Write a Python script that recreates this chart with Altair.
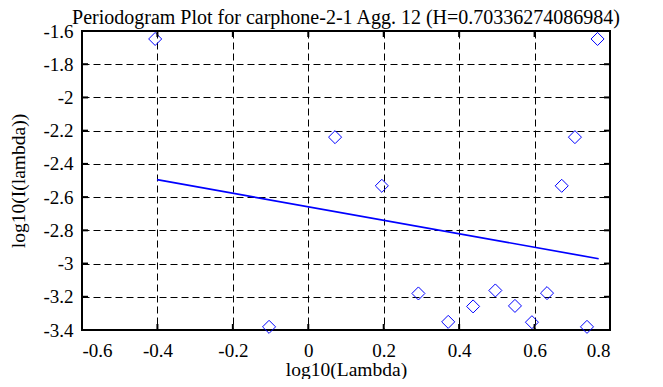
import altair as alt
import pandas as pd

# Periodogram points (log10 lambda, log10 I(lambda))
log_lambda = [-0.406, -0.104, 0.071, 0.195, 0.292, 0.371, 0.437, 0.496,
              0.548, 0.593, 0.633, 0.672, 0.707, 0.739, 0.767]
log_i = [-1.648, -3.381, -2.239, -2.532, -3.180, -3.351, -3.258, -3.162,
         -3.255, -3.353, -3.178, -2.532, -2.239, -3.381, -1.648]

# least squares fit line endpoints
fit_x = [-0.401, 0.770]
fit_y = [-2.495, -2.971]

x_ticks = [-0.6, -0.4, -0.2, 0.0, 0.2, 0.4, 0.6, 0.8]
y_ticks = [-3.4, -3.2, -3.0, -2.8, -2.6, -2.4, -2.2, -2.0, -1.8, -1.6]

title_text = "Periodogram Plot for carphone-2-1 Agg. 12 (H=0.70336274086984)"

W, H = 528, 299
FONT = "Liberation Serif"

pts = pd.DataFrame({"x": log_lambda, "y": log_i})
fit = pd.DataFrame({"x": fit_x, "y": fit_y})
xt = pd.DataFrame({"x": x_ticks})
yt = pd.DataFrame({"y": y_ticks})

xscale = alt.Scale(domain=[-0.6, 0.8], nice=False, zero=False)
yscale = alt.Scale(domain=[-3.4, -1.6], nice=False, zero=False)

xaxis = alt.Axis(values=x_ticks, labelExpr="'' + datum.value", title="log10(Lambda)",
                 grid=True, ticks=False, domain=False, labelPadding=11,
                 labelOverlap=False, titleY=45, titleBaseline="alphabetic")
yaxis = alt.Axis(values=y_ticks, labelExpr="'' + datum.value", title="log10(I(lambda))",
                 grid=True, ticks=False, domain=False, labelPadding=9,
                 labelOverlap=False, titleX=-58, titleBaseline="alphabetic",
                 titleAngle=-90)


def X(field="x"):
    return alt.X(f"{field}:Q", scale=xscale, axis=xaxis)


def Y(field="y"):
    return alt.Y(f"{field}:Q", scale=yscale, axis=yaxis)


points = alt.Chart(pts).mark_point(shape="diamond", size=170, color="#0000FF",
                                   strokeWidth=1, filled=False, opacity=1).encode(
    x=X(), y=Y())

line = alt.Chart(fit).mark_line(color="#0000FF", strokeWidth=1.7).encode(
    x=X(), y=Y())

tick_len = 6
bt = alt.Chart(xt).mark_rule(color="black", strokeWidth=2).encode(
    x=X(), y=alt.value(H), y2=alt.value(H - tick_len))
tt = alt.Chart(xt).mark_rule(color="black", strokeWidth=2).encode(
    x=X(), y=alt.value(0), y2=alt.value(tick_len))
lt = alt.Chart(yt).mark_rule(color="black", strokeWidth=2).encode(
    y=Y(), x=alt.value(0), x2=alt.value(tick_len))
rt = alt.Chart(yt).mark_rule(color="black", strokeWidth=2).encode(
    y=Y(), x=alt.value(W), x2=alt.value(W - tick_len))

chart = alt.layer(points, line, bt, tt, lt, rt).properties(
    width=W, height=H,
    title=alt.TitleParams(title_text, font=FONT, fontSize=20, fontWeight="normal",
                          color="black", anchor="middle", baseline="alphabetic",
                          frame="group", offset=6, dy=28),
    autosize=alt.AutoSizeParams(type="none"),
    padding={"left": 74, "top": 23, "right": 40, "bottom": 49},
).configure_view(
    stroke="black", strokeWidth=2
).configure_axis(
    labelFont=FONT, titleFont=FONT, labelFontSize=19, titleFontSize=19.5,
    labelColor="black", titleColor="black", titleFontWeight="normal",
    gridColor="black", gridDash=[7, 4], gridOpacity=1, gridWidth=1,
)

chart.save("out.html", embed_options={"renderer": "svg", "actions": False})
